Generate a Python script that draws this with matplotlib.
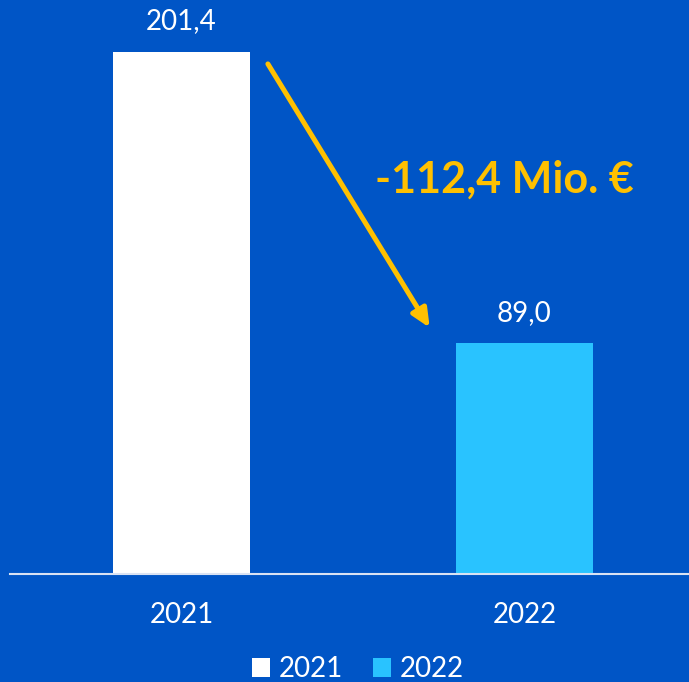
import matplotlib
matplotlib.use("Agg")
import matplotlib.pyplot as plt
from matplotlib.patches import Patch

categories = ["2021", "2022"]
values = [201.4, 89.0]
value_labels = ["201,4", "89,0"]
delta_label = "-112,4 Mio. €"

BG = "#0055C6"
BAR_COLORS = ["#FFFFFF", "#29C3FF"]
GOLD = "#FFC000"
FONT = ["Lato", "DejaVu Sans"]

plt.rcParams["font.family"] = FONT

fig = plt.figure(figsize=(6.89, 6.82), dpi=100, facecolor=BG)
ax = fig.add_axes([10 / 689, 1 - 574 / 682, 679 / 689, 574 / 682])
ax.set_facecolor(BG)

x = list(range(len(categories)))
bars = ax.bar(x, values, width=0.4, color=BAR_COLORS, zorder=2)

ax.set_xlim(-0.5, 1.48)
ax.set_ylim(0, values[0] * 574 / 522)

for xi, v, lab in zip(x, values, value_labels):
    ax.annotate(lab, (xi, v), xytext=(0, 22), textcoords="offset points",
                ha="center", va="center", color="white", fontsize=20)

ax.set_xticks(x)
ax.set_xticklabels(categories, color="white", fontsize=20)
ax.tick_params(axis="x", length=0, pad=20)
ax.set_yticks([])
for s in ["top", "right", "left"]:
    ax.spines[s].set_visible(False)
ax.spines["bottom"].set_color("#D9E2F3")
ax.spines["bottom"].set_linewidth(1.5)

# arrow showing decline
ax.annotate("", xy=(x[1] - 0.276, values[1] + 6), xytext=(x[0] + 0.252, values[0] - 4.6),
            arrowprops=dict(arrowstyle="-|>,head_length=1.1,head_width=0.5",
                        color=GOLD, lw=3.6, shrinkA=0, shrinkB=0))
ax.text(0.943, 152, delta_label, ha="center", va="center", color=GOLD,
        fontsize=31, fontweight="bold")

handles = [Patch(facecolor=c, edgecolor="none") for c in BAR_COLORS]
leg = fig.legend(handles, categories, loc="center", bbox_to_anchor=(358 / 689, 1 - 669 / 682),
                 ncol=2, frameon=False, fontsize=20, labelcolor="white",
                 handlelength=0.65, handleheight=0.65, handletextpad=0.3, columnspacing=1.1)

fig.savefig("out.png", dpi=100, facecolor=BG)
